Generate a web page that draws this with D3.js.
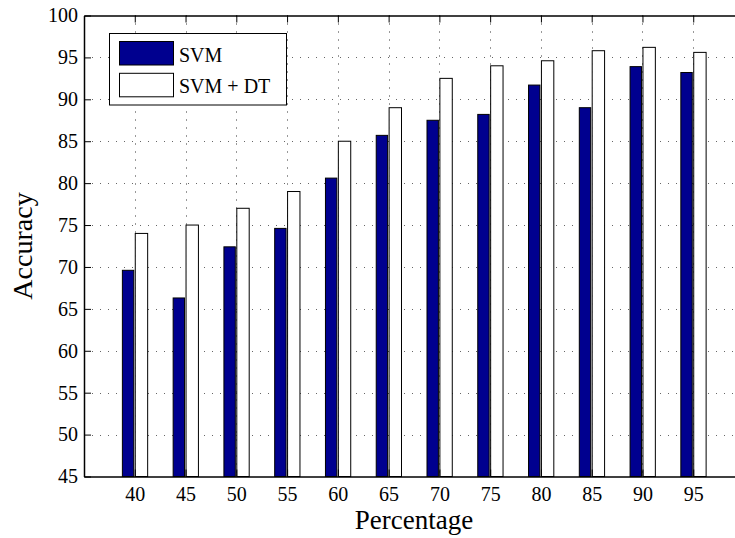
<!DOCTYPE html>
<html>
<head>
<meta charset="utf-8">
<script src="https://cdn.jsdelivr.net/npm/d3@7"></script>
<style>
  body { margin: 0; background: #fff; }
  text { font-family: "Liberation Serif", "Times New Roman", serif; fill: #000; }
</style>
</head>
<body>
<div id="chart"></div>
<script>
const percentages = [40, 45, 50, 55, 60, 65, 70, 75, 80, 85, 90, 95];
const svmAcc = [69.6, 66.3, 72.4, 74.6, 80.6, 85.7, 87.5, 88.2, 91.7, 89.0, 93.9, 93.2];
const svmDtAcc = [74.0, 75.0, 77.0, 79.0, 85.0, 89.0, 92.5, 94.0, 94.6, 95.8, 96.2, 95.6];
const yTicks = [45, 50, 55, 60, 65, 70, 75, 80, 85, 90, 95, 100];
const seriesNames = ['SVM', 'SVM + DT'];

const width = 735;
const height = 538;
const margin = {top: 15.5, right: -9, bottom: 61.5, left: 84};

const svg = d3.select('#chart').append('svg')
  .attr('width', width)
  .attr('height', height);

const xScale = d3.scaleLinear()
  .domain([35, 100])
  .range([margin.left, width - margin.right]);

const yScale = d3.scaleLinear()
  .domain([45, 100])
  .range([height - margin.bottom, margin.top]);

const barW = xScale(36.22) - xScale(35);
const plotTop = yScale(100);
const plotBottom = yScale(45);
const plotLeft = xScale(35);
const plotRight = xScale(100);

// grid
svg.append('g')
  .selectAll('line')
  .data(yTicks.slice(1, -1))
  .enter().append('line')
  .attr('x1', plotLeft).attr('x2', plotRight)
  .attr('y1', d => Math.round(yScale(d)) + 0.5)
  .attr('y2', d => Math.round(yScale(d)) + 0.5)
  .attr('stroke', '#666')
  .attr('stroke-dasharray', '1,7');

svg.append('g')
  .selectAll('line')
  .data(percentages)
  .enter().append('line')
  .attr('x1', d => Math.round(xScale(d)) + 0.5)
  .attr('x2', d => Math.round(xScale(d)) + 0.5)
  .attr('y1', plotTop).attr('y2', plotBottom)
  .attr('stroke', '#333')
  .attr('stroke-dasharray', '1,7');

// bars
const groups = svg.append('g');

groups.selectAll('rect.svm')
  .data(percentages)
  .enter().append('rect')
  .attr('class', 'svm')
  .attr('x', d => xScale(d) - barW)
  .attr('y', (d, i) => yScale(svmAcc[i]))
  .attr('width', barW - 1)
  .attr('height', (d, i) => plotBottom - yScale(svmAcc[i]))
  .attr('fill', '#00008f')
  .attr('stroke', '#000')
  .attr('stroke-width', 1);

groups.selectAll('rect.dt')
  .data(percentages)
  .enter().append('rect')
  .attr('class', 'dt')
  .attr('x', d => xScale(d) + 0.5)
  .attr('y', (d, i) => yScale(svmDtAcc[i]))
  .attr('width', barW)
  .attr('height', (d, i) => plotBottom - yScale(svmDtAcc[i]))
  .attr('fill', '#fff')
  .attr('stroke', '#000')
  .attr('stroke-width', 1);

// axes
svg.append('g')
  .attr('transform', 'translate(0,' + plotBottom + ')')
  .call(d3.axisBottom(xScale).tickValues(percentages).tickSize(-7).tickPadding(10).tickSizeOuter(0))
  .call(g => g.selectAll('text').style('font-size', '20px'))
  .call(g => g.select('.domain').attr('stroke-width', 1.5));

svg.append('g')
  .attr('transform', 'translate(0,' + plotTop + ')')
  .call(d3.axisTop(xScale).tickValues(percentages).tickSize(-7).tickFormat('').tickSizeOuter(0))
  .call(g => g.select('.domain').attr('stroke-width', 1.5));

svg.append('g')
  .attr('transform', 'translate(' + plotLeft + ',0)')
  .call(d3.axisLeft(yScale).tickValues(yTicks).tickSize(-7).tickPadding(6).tickSizeOuter(0))
  .call(g => g.selectAll('text').style('font-size', '20px'))
  .call(g => g.select('.domain').attr('stroke-width', 1.5));

// axis labels
svg.append('text')
  .attr('x', (plotLeft + plotRight) / 2)
  .attr('y', 529)
  .attr('text-anchor', 'middle')
  .style('font-size', '27px')
  .text('Percentage');

svg.append('text')
  .attr('transform', 'translate(32,' + (plotTop + plotBottom) / 2 + ') rotate(-90)')
  .attr('text-anchor', 'middle')
  .style('font-size', '28px')
  .text('Accuracy');

// legend
const legend = svg.append('g');
legend.append('rect')
  .attr('x', 109.5).attr('y', 33.5)
  .attr('width', 177).attr('height', 71.5)
  .attr('fill', '#fff')
  .attr('stroke', '#000');

const swatchFill = ['#00008f', '#fff'];
seriesNames.forEach(function(name, i) {
  legend.append('rect')
    .attr('x', 119.5).attr('y', 41.5 + i * 31.8)
    .attr('width', 54).attr('height', 23.5)
    .attr('fill', swatchFill[i])
    .attr('stroke', '#000');
  legend.append('text')
    .attr('x', 179).attr('y', 61.5 + i * 31.8)
    .style('font-size', '20px')
    .text(name);
});
</script>
</body>
</html>
